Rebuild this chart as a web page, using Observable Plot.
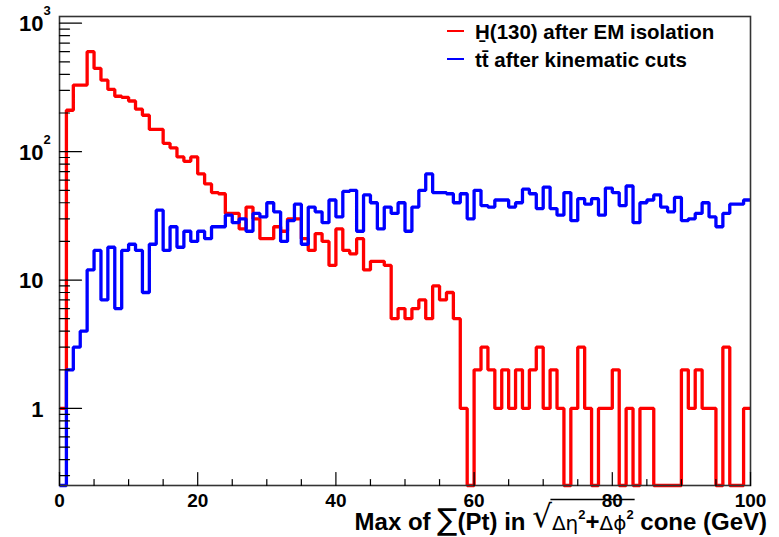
<!DOCTYPE html>
<html><head><meta charset="utf-8">
<script src="https://cdn.jsdelivr.net/npm/d3@7"></script>
<script src="https://cdn.jsdelivr.net/npm/@observablehq/plot@0.6"></script>
<style>body{margin:0;background:#fff;} #chart svg{display:block;}</style>
</head><body><div id="chart"></div>
<script>
// Bin contents, 1 GeV bins from 0 to 100
const higgs = [1,210,330,330,600,445,360,305,270,265,
  248,214,192,149,149,116,107,91,84,91,
  67,56,48,47,33,33,25,37,30,21,
  21,26,24,30,30,21,17,23,20,13,
  25,17,16,21,12,14,14,13,5,6,
  5,6,7,5,9,7,8,5,1,0,
  2,3,2,1,2,1,2,1,2,3,
  1,2,1,0,1,3,1,0,1,1,
  2,0,1,0,1,1,0,0,0,0,
  2,1,2,1,1,0,3,0,0,1];
const ttbar = [0,2,3,4,12,17,7,18,6,17,
  19,17,8,19,35,17,26,18,24,20,
  24,21,26,26,32,28,30,24,33,31,
  40,34,20,29,39,19,37,34,28,42,
  31,49,50,24,46,40,25,37,33,40,
  24,37,50,67,48,48,47,40,47,30,
  50,38,37,42,42,37,40,51,47,36,
  53,36,32,48,29,43,39,43,32,52,
  48,38,54,28,40,42,46,37,34,44,
  29,30,33,40,31,26,33,39,39,42];
const seriesNames = ["H\u0331(130) after EM isolation", "tt\u0304 after kinematic cuts"];
const seriesColors = ["#ff0000", "#0000ff"];
const xTicks = [0, 20, 40, 60, 80, 100];
const xMinorTicks = [5,10,15,25,30,35,45,50,55,65,70,75,85,90,95];
const yTicks = [1, 10, 100, 1000];
const yTickBase = ["1", "10", "10", "10"];
const yTickExp = ["", "", "2", "3"];
const yMinorTicks = [0.3,0.4,0.5,0.6,0.7,0.8,0.9,2,3,4,5,6,7,8,9,20,30,40,50,60,70,80,90,200,300,400,500,600,700,800,900];
const xDomain = [0, 100];
const yDomain = [0.2513, 1128];

const W = 779, H = 537;
const mL = 59, mR = 29, mT = 16, mB = 52;
const FONT = "'Liberation Sans', Arial, sans-serif";
const SYM = "'DejaVu Sans', sans-serif";

function steps(vals) {
  const pts = vals.map((v, i) => ({x: i, y: Math.max(v, yDomain[0])}));
  pts.push({x: vals.length, y: Math.max(vals[vals.length - 1], yDomain[0])});
  return pts;
}
const tickShape = {draw(ctx, l) { ctx.moveTo(0, 0); ctx.lineTo(0, -l); }};

const plot = Plot.plot({
  width: W, height: H,
  marginLeft: mL, marginRight: mR, marginTop: mT, marginBottom: mB,
  style: {fontFamily: FONT, background: "#fff", color: "#000"},
  x: {domain: xDomain, axis: null},
  y: {type: "log", domain: yDomain, axis: null},
  marks: [
    Plot.line(steps(higgs), {x: "x", y: "y", curve: "step-after", stroke: seriesColors[0], strokeWidth: 3.3, strokeLinejoin: "miter", strokeLinecap: "butt"}),
    Plot.line(steps(ttbar), {x: "x", y: "y", curve: "step-after", stroke: seriesColors[1], strokeWidth: 3.3, strokeLinejoin: "miter", strokeLinecap: "butt"}),
    Plot.frame({stroke: "#333", strokeWidth: 1.6}),
    // y ticks (inward)
    Plot.vector(yTicks, {y: d => d, frameAnchor: "left", rotate: 90, length: 22, anchor: "start", shape: tickShape, stroke: "#000", strokeWidth: 1.2}),
    Plot.vector(yMinorTicks, {y: d => d, frameAnchor: "left", rotate: 90, length: 10, anchor: "start", shape: tickShape, stroke: "#000", strokeWidth: 1.2}),
    // x ticks (inward)
    Plot.vector(xTicks, {x: d => d, frameAnchor: "bottom", rotate: 0, length: 13, anchor: "start", shape: tickShape, stroke: "#000", strokeWidth: 1.2}),
    Plot.vector(xMinorTicks, {x: d => d, frameAnchor: "bottom", rotate: 0, length: 6, anchor: "start", shape: tickShape, stroke: "#000", strokeWidth: 1.2}),
    // tick labels
    Plot.text(xTicks, {x: d => d, text: d => String(d), frameAnchor: "bottom", dy: 7.5, lineAnchor: "top", textAnchor: "middle", fontSize: 19, fontWeight: "bold", fill: "#000"}),
    Plot.text(yTicks, {y: d => d, text: (d, i) => yTickBase[i], frameAnchor: "left", dx: -16, dy: 1, lineAnchor: "middle", textAnchor: "end", fontSize: 22, fontWeight: "bold", fill: "#000"}),
    Plot.text(yTicks, {y: d => d, text: (d, i) => yTickExp[i], frameAnchor: "left", dx: -16, dy: -17, lineAnchor: "top", textAnchor: "start", fontSize: 13, fontWeight: "bold", fill: "#000"})
  ]
});
document.getElementById("chart").appendChild(plot);

const svg = d3.select(plot);
// Legend
const leg = svg.append("g").attr("font-family", FONT).attr("text-anchor", "start");
seriesNames.forEach((name, i) => {
  const cy = 31 + i * 28;
  leg.append("line").attr("x1", 447).attr("x2", 464).attr("y1", cy).attr("y2", cy)
    .attr("stroke", seriesColors[i]).attr("stroke-width", 2);
  leg.append("text").attr("x", 475).attr("y", cy + 8).attr("font-size", 20.5).attr("font-weight", "bold")
    .attr("text-anchor", "start").attr("fill", "#000").text(name);
});

// X axis title
const t = svg.append("text").attr("x", 767).attr("y", 530).attr("text-anchor", "end")
  .attr("font-family", FONT).attr("font-size", 24).attr("font-weight", "bold").attr("fill", "#000");
t.append("tspan").text("Max of ");
t.append("tspan").attr("font-size", 30).attr("font-weight", "normal").attr("font-family", SYM).text("\u2211");
t.append("tspan").text("(Pt) in ");
t.append("tspan").attr("font-size", 31).attr("dy", -3).attr("font-weight", "normal").attr("font-family", SYM).text("\u221A");
t.append("tspan").attr("dy", 3).attr("font-weight", "normal").attr("font-size", 20).attr("font-family", SYM).text("\u0394\u03B7");
t.append("tspan").attr("font-size", 13).attr("dy", -11).text("2");
t.append("tspan").attr("dy", 11).text("+");
t.append("tspan").attr("font-weight", "normal").attr("font-size", 20).attr("font-family", SYM).text("\u0394\u03D5");
t.append("tspan").attr("font-size", 13).attr("dy", -11).text("2");
t.append("tspan").attr("dy", 11).text(" cone (GeV)");
try {
  const node = t.node();
  const x0 = node.getEndPositionOfChar(16).x - 1.5;
  const x1 = node.getEndPositionOfChar(23).x + 1;
  svg.append("line").attr("x1", x0).attr("x2", x1).attr("y1", 499.5).attr("y2", 499.5).attr("stroke", "#000").attr("stroke-width", 1.6);
} catch (e) {}
</script>
</body></html>
